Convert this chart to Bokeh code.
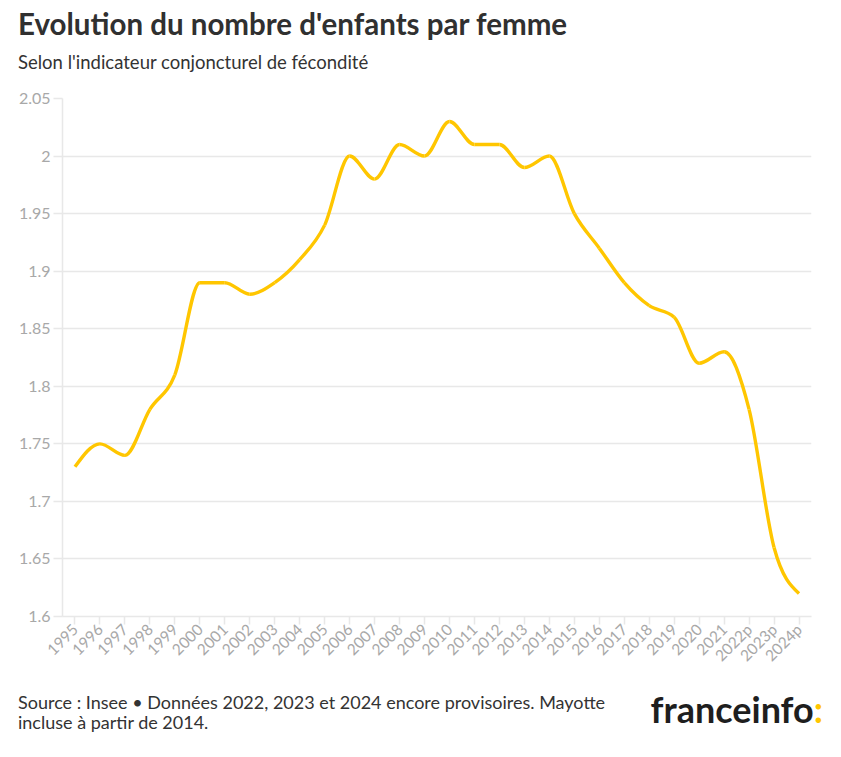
import numpy as np
from bokeh.plotting import figure
from bokeh.layouts import column
from bokeh.models import Range1d, FixedTicker, CustomJSTickFormatter, Div
from bokeh.embed import file_html
from bokeh.resources import INLINE

# ---- data ----
years = ["1995", "1996", "1997", "1998", "1999", "2000", "2001", "2002", "2003", "2004",
         "2005", "2006", "2007", "2008", "2009", "2010", "2011", "2012", "2013", "2014",
         "2015", "2016", "2017", "2018", "2019", "2020", "2021", "2022p", "2023p", "2024p"]
icf = [1.73, 1.75, 1.74, 1.78, 1.81, 1.89, 1.89, 1.88, 1.89, 1.91,
       1.94, 2.00, 1.98, 2.01, 2.00, 2.03, 2.01, 2.01, 1.99, 2.00,
       1.95, 1.92, 1.89, 1.87, 1.86, 1.82, 1.83, 1.78, 1.66, 1.62]
y_ticks = [1.6, 1.65, 1.7, 1.75, 1.8, 1.85, 1.9, 1.95, 2.0, 2.05]

title_txt = "Evolution du nombre d'enfants par femme"
subtitle_txt = "Selon l'indicateur conjoncturel de fécondité"
source_l1 = "Source : Insee • Données 2022, 2023 et 2024 encore provisoires. Mayotte"
source_l2 = "incluse à partir de 2014."
logo_txt = "franceinfo"
logo_colon = ":"

FONT = "Lato"
YELLOW = "#FFC600"
GRID = "#e8e8e8"
LABEL = "#a8a8a8"
TEXT = "#333333"

W = 835
HEAD_H = 80
MAIN_H = 610
FOOT_H = 60
TOP_B = 18

# ---- header ----
head_html = (
    f'<div style="position:relative;width:{W}px;height:{HEAD_H}px;font-family:{FONT};">'
    f'<div style="position:absolute;left:18px;top:9px;font-size:29.5px;line-height:29.5px;'
    f'font-weight:bold;color:#303030;white-space:nowrap;">{title_txt}</div>'
    f'<div style="position:absolute;left:18px;top:53px;font-size:18.5px;line-height:18.5px;'
    f'color:{TEXT};white-space:nowrap;">{subtitle_txt}</div>'
    '</div>'
)
head = Div(text=head_html, width=W, height=HEAD_H, margin=0)

# ---- main chart ----
xs = np.arange(len(years), dtype=float)
ys = np.array(icf, dtype=float)

# monotone-x cubic (like d3 curveMonotoneX) control points for bezier segments
n = len(xs)
h = np.diff(xs)
s = np.diff(ys) / h
t = np.zeros(n)
for i in range(1, n - 1):
    s0, s1 = s[i - 1], s[i]
    pp = (s0 * h[i] + s1 * h[i - 1]) / (h[i - 1] + h[i])
    t[i] = (np.sign(s0) + np.sign(s1)) * min(abs(s0), abs(s1), 0.5 * abs(pp))
t[0] = (3 * s[0] - t[1]) / 2
t[-1] = (3 * s[-1] - t[-2]) / 2
dx = h / 3.0
x0, y0 = xs[:-1], ys[:-1]
x1, y1 = xs[1:], ys[1:]
cx0, cy0 = x0 + dx, y0 + dx * t[:-1]
cx1, cy1 = x1 - dx, y1 - dx * t[1:]

p = figure(width=W, height=MAIN_H, output_backend="svg", toolbar_location=None,
           x_range=Range1d(-0.5, n - 0.5), y_range=Range1d(1.6, 2.05),
           min_border_left=62, min_border_right=W - 811, min_border_top=TOP_B,
           min_border_bottom=MAIN_H - TOP_B - 518, margin=0)
p.outline_line_color = None
p.background_fill_color = "white"
p.border_fill_color = "white"

p.bezier(x0=x0, y0=y0, x1=x1, y1=y1, cx0=cx0, cy0=cy0, cx1=cx1, cy1=cy1,
         line_color=YELLOW, line_width=3.4)

p.xgrid.grid_line_color = None
p.ygrid.grid_line_color = GRID
p.ygrid.grid_line_width = 1.5

p.yaxis.ticker = FixedTicker(ticks=y_ticks)
p.yaxis.formatter = CustomJSTickFormatter(code="return String(Number(tick.toFixed(2)));")
p.yaxis.axis_line_color = GRID
p.yaxis.axis_line_width = 1.5
p.yaxis.major_tick_line_color = GRID
p.yaxis.major_tick_line_width = 1.5
p.yaxis.major_tick_out = 9
p.yaxis.major_tick_in = 0
p.yaxis.minor_tick_line_color = None
p.yaxis.major_label_text_color = LABEL
p.yaxis.major_label_text_font = FONT
p.yaxis.major_label_text_font_size = "16px"
p.yaxis.major_label_standoff = 3

p.xaxis.ticker = FixedTicker(ticks=list(range(n)))
p.xaxis.formatter = CustomJSTickFormatter(args=dict(labels=years),
                                          code="return labels[Math.round(tick)] || '';")
p.xaxis.axis_line_color = GRID
p.xaxis.axis_line_width = 1.5
p.xaxis.major_tick_line_color = GRID
p.xaxis.major_tick_line_width = 1.5
p.xaxis.major_tick_out = 8
p.xaxis.major_tick_in = 0
p.xaxis.minor_tick_line_color = None
p.xaxis.major_label_orientation = np.pi / 4
p.xaxis.major_label_text_color = LABEL
p.xaxis.major_label_text_font = FONT
p.xaxis.major_label_text_font_size = "15.5px"
p.xaxis.major_label_standoff = 2

# ---- footer ----
foot_html = (
    f'<div style="position:relative;width:{W}px;height:{FOOT_H}px;font-family:{FONT};color:{TEXT};">'
    f'<div style="position:absolute;left:18px;top:3px;font-size:18px;line-height:18px;'
    f'white-space:nowrap;">{source_l1}</div>'
    f'<div style="position:absolute;left:18px;top:23px;font-size:18px;line-height:18px;'
    f'white-space:nowrap;">{source_l2}</div>'
    f'<div style="position:absolute;right:{W - 823}px;top:1px;font-size:36px;line-height:36px;'
    f'font-weight:bold;color:#1e1e1e;white-space:nowrap;">{logo_txt}'
    f'<span style="color:{YELLOW};">{logo_colon}</span></div>'
    '</div>'
)
foot = Div(text=foot_html, width=W, height=FOOT_H, margin=0)

layout = column(head, p, foot, spacing=0)
open("out.html", "w").write(file_html(layout, INLINE))
